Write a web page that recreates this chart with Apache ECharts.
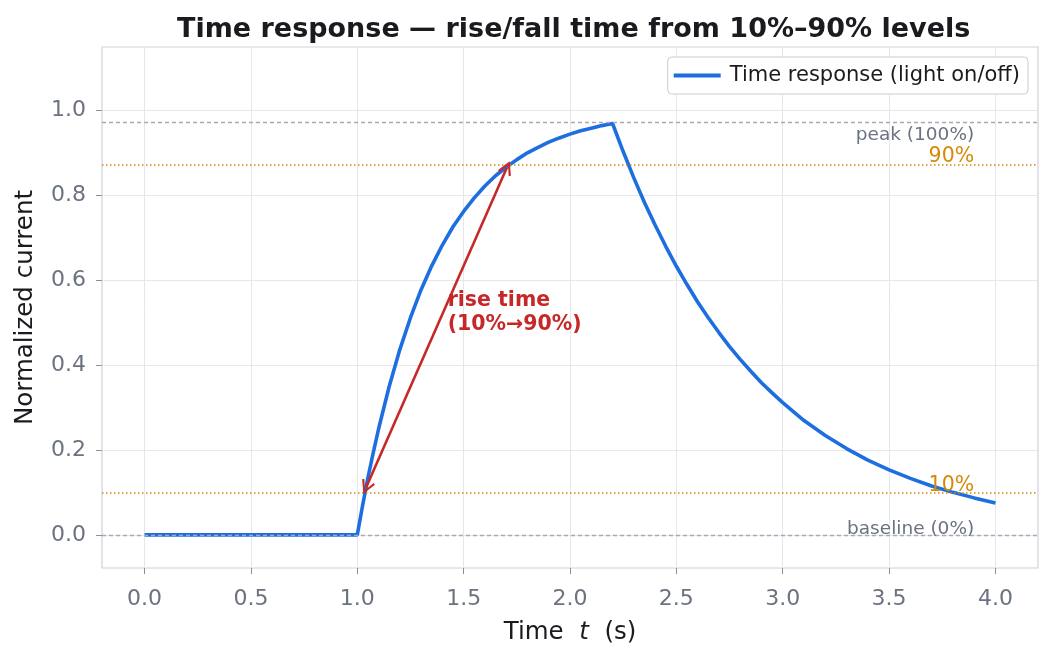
<!DOCTYPE html>
<html lang="en">
<head>
<meta charset="utf-8">
<title>Time response</title>
<script src="https://cdn.jsdelivr.net/npm/echarts@6/dist/echarts.min.js"></script>
<style>
  html, body { margin: 0; padding: 0; background: #fff; }
  #main { width: 1053px; height: 657px; }
</style>
</head>
<body>
<div id="main"></div>
<script>
// time points (s) and normalized current
var timeVals = [0, 0.5, 1.0, 1.025, 1.05, 1.075, 1.1, 1.15, 1.2, 1.25, 1.3, 1.35, 1.4, 1.45, 1.5, 1.55, 1.6, 1.65, 1.7, 1.75, 1.8,
                1.85, 1.9, 1.95, 2.0, 2.05, 2.1, 2.15, 2.2,
                2.25, 2.3, 2.35, 2.4, 2.45, 2.5, 2.55, 2.6, 2.65, 2.7, 2.75, 2.8, 2.85, 2.9, 2.95, 3.0,
                3.1, 3.2, 3.3, 3.4, 3.5, 3.6, 3.7, 3.8, 3.9, 4.0];
var currentVals = [0, 0, 0, 0.069, 0.134, 0.193, 0.249, 0.349, 0.436, 0.511, 0.577, 0.633, 0.682, 0.725, 0.761, 0.793, 0.821, 0.845, 0.865, 0.883, 0.899,
                   0.912, 0.924, 0.934, 0.943, 0.951, 0.957, 0.963, 0.968,
                   0.902, 0.840, 0.782, 0.729, 0.679, 0.632, 0.589, 0.548, 0.511, 0.476, 0.443, 0.413, 0.385, 0.358, 0.334, 0.311,
                   0.269, 0.234, 0.203, 0.176, 0.153, 0.133, 0.115, 0.100, 0.087, 0.075];

// reference levels
var peakLevel = 0.968;
var level90 = 0.871;
var level10 = 0.097;
var baseLevel = 0;

// rise time arrow: from 10% crossing to 90% crossing
var riseStart = [1.042, 0.112];
var riseEnd = [1.703, 0.864];

var xTicks = [0, 0.5, 1.0, 1.5, 2.0, 2.5, 3.0, 3.5, 4.0];
var yTicks = [0, 0.2, 0.4, 0.6, 0.8, 1.0];

var FONT = 'DejaVu Sans';
var BLUE = '#1d6fe0';
var RED = '#c62828';
var ORANGE = '#d68909';
var GRAYLINE = '#a9a9b9';
var TICKGRAY = '#6b7280';

var chart = echarts.init(document.getElementById('main'));

var lineData = timeVals.map(function (t, i) { return [t, currentVals[i]]; });

var openArrow = 'path://M0,0 L6,10 L4.4,11 L0,3.2 L-4.4,11 L-6,10 Z';

var option = {
  animation: false,
  textStyle: { fontFamily: FONT },
  title: {
    text: 'Time response — rise/fall time from 10%–90% levels',
    left: 172,
    top: 11,
    textStyle: { fontFamily: FONT, fontSize: 27, fontWeight: 'bold', color: '#1b1b1f' }
  },
  legend: {
    right: 25,
    top: 57,
    data: [{ name: 'Time response (light on/off)', icon: 'rect' }],
    itemWidth: 47,
    itemHeight: 4,
    itemGap: 10,
    padding: [8, 8, 8, 6],
    borderColor: '#cccccc',
    borderWidth: 1,
    borderRadius: 4,
    backgroundColor: '#ffffff',
    textStyle: { fontFamily: FONT, fontSize: 21, color: '#1b1b1f', padding: [0, 0, 0, 4] }
  },
  grid: {
    left: 102, right: 15, top: 47, bottom: 89,
    show: true, borderColor: '#cfd2d9', borderWidth: 1.2
  },
  xAxis: {
    type: 'value',
    min: -0.2, max: 4.2,
    name: 'Time  {i|t}  (s)',
    nameLocation: 'middle',
    nameGap: 52,
    nameTextStyle: {
      fontFamily: FONT, fontSize: 24.5, color: '#1b1b1f',
      rich: { i: { fontFamily: FONT, fontSize: 24.5, fontStyle: 'italic', color: '#1b1b1f' } }
    },
    axisLine: { show: false, onZero: false },
    axisTick: { show: true, length: 6, lineStyle: { color: '#8a8f99' }, customValues: xTicks },
    axisLabel: { customValues: xTicks, fontSize: 22, color: TICKGRAY, margin: 20,
      formatter: function (v) { return v.toFixed(1); } },
    splitLine: { show: true, lineStyle: { color: '#e5e7eb', width: 1 } }
  },
  yAxis: {
    type: 'value',
    min: -0.078, max: 1.148,
    name: 'Normalized current',
    nameLocation: 'middle',
    nameGap: 64,
    nameTextStyle: { fontFamily: FONT, fontSize: 24.5, color: '#1b1b1f' },
    axisLine: { show: false, onZero: false },
    axisTick: { show: true, length: 6, lineStyle: { color: '#8a8f99' }, customValues: yTicks },
    axisLabel: { customValues: yTicks, fontSize: 22, color: TICKGRAY, margin: 16,
      formatter: function (v) { return v.toFixed(1); } },
    splitLine: { show: true, lineStyle: { color: '#e5e7eb', width: 1 } }
  },
  series: [
    {
      name: 'Time response (light on/off)',
      type: 'line',
      data: lineData,
      showSymbol: false,
      symbol: 'none',
      lineStyle: { color: BLUE, width: 3.6 },
      itemStyle: { color: BLUE },
      z: 3
    },
    {
      name: 'levels',
      type: 'line',
      data: [],
      silent: true,
      markLine: {
        silent: true,
        symbol: ['none', 'none'],
        label: { show: false },
        data: [
          { yAxis: peakLevel, lineStyle: { color: GRAYLINE, type: [4, 3], width: 1.3 } },
          { yAxis: baseLevel, lineStyle: { color: GRAYLINE, type: [4, 3], width: 1.3 } },
          { yAxis: level90, lineStyle: { color: ORANGE, type: [1.5, 2.5], width: 1.6 } },
          { yAxis: level10, lineStyle: { color: ORANGE, type: [1.5, 2.5], width: 1.6 } }
        ]
      },
      z: 4
    },
    {
      name: 'rise',
      type: 'line',
      data: [],
      silent: true,
      markLine: {
        silent: true,
        symbol: [openArrow, openArrow],
        symbolSize: [14, 14],
        label: { show: false },
        lineStyle: { color: RED, width: 2.6, type: 'solid' },
        data: [[{ coord: riseStart }, { coord: riseEnd }]]
      },
      z: 5
    },
    {
      name: 'labels',
      type: 'scatter',
      symbolSize: 0,
      silent: true,
      itemStyle: { opacity: 1 },
      data: [
        { value: [3.9, peakLevel - 0.004], label: { show: true, formatter: 'peak (100%)', position: [0, 0], align: 'right', verticalAlign: 'top', fontSize: 18.5, color: '#6b7280' } },
        { value: [3.9, level90 - 0.005], label: { show: true, formatter: '90%', position: [0, 0], align: 'right', verticalAlign: 'bottom', fontSize: 20.5, color: ORANGE } },
        { value: [3.9, level10 - 0.005], label: { show: true, formatter: '10%', position: [0, 0], align: 'right', verticalAlign: 'bottom', fontSize: 20.5, color: ORANGE } },
        { value: [3.9, baseLevel - 0.008], label: { show: true, formatter: 'baseline (0%)', position: [0, 0], align: 'right', verticalAlign: 'bottom', fontSize: 18.5, color: '#6b7280' } },
        { value: [1.425, 0.580], label: { show: true, formatter: 'rise time\n(10%→90%)', position: [0, 0], align: 'left', verticalAlign: 'top', fontSize: 20.5, fontWeight: 'bold', lineHeight: 24, color: RED } }
      ],
      z: 6
    }
  ]
};

chart.setOption(option);
</script>
</body>
</html>
